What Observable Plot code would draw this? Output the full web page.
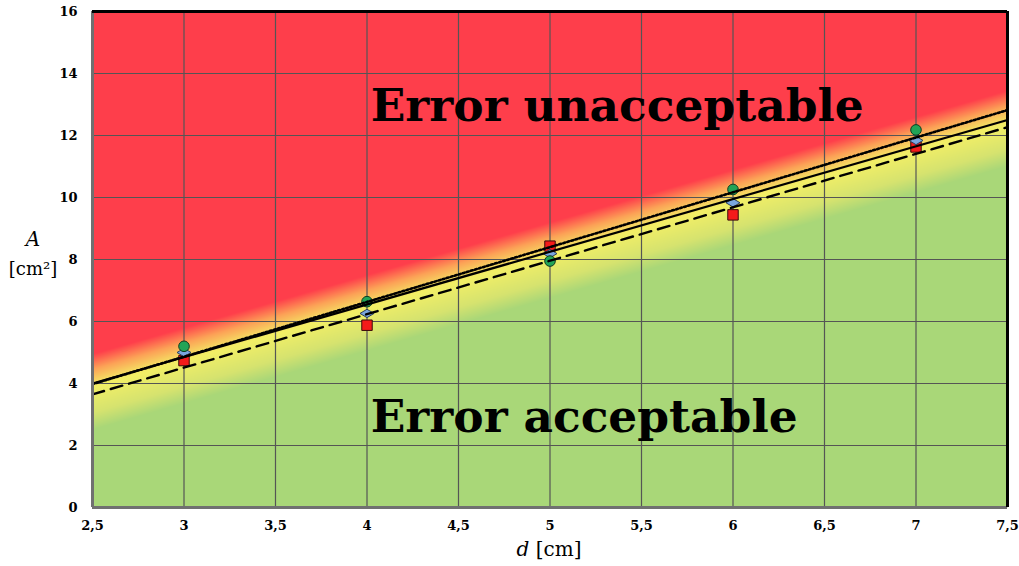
<!DOCTYPE html>
<html>
<head>
<meta charset="utf-8">
<script src="https://cdn.jsdelivr.net/npm/d3@7"></script>
<script src="https://cdn.jsdelivr.net/npm/@observablehq/plot@0.6"></script>
<style>
  html, body { margin: 0; padding: 0; background: #fff; }
  #chart svg { display: block; }
</style>
</head>
<body>
<div id="chart"></div>
<script>
// Measured points: plate distance d [cm] vs. area A [cm²], three methods
const dValues = [3, 4, 5, 6, 7];
const circleA = [5.2, 6.64, 7.95, 10.26, 12.18];
const diamondA = [5.0, 6.26, 8.19, 9.83, 11.84];
const squareA = [4.74, 5.88, 8.43, 9.44, 11.63];

// Fitted lines, given by their end points over the d range
const lineD = [2.5, 7.5];
const solidA = [4.0, 12.5];
const dottedA = [3.98, 12.82];
const dashedA = [3.65, 12.27];

// Axis ticks
const xTicks = [2.5, 3, 3.5, 4, 4.5, 5, 5.5, 6, 6.5, 7, 7.5];
const yTicks = [0, 2, 4, 6, 8, 10, 12, 14, 16];

// Zone captions
const zoneLabels = ["Error unacceptable", "Error acceptable"];

const pts = (ys) => dValues.map((d, i) => ({d, A: ys[i]}));
const seg = (ys) => lineD.map((d, i) => ({d, A: ys[i]}));

// Background: colour follows the offset above/below the solid line
const solidAt = (x) => solidA[0] + (solidA[1] - solidA[0]) * (x - lineD[0]) / (lineD[1] - lineD[0]);

// Horizontally stretched diamond symbol
const wideDiamond = {
  draw(ctx, size) {
    const s = Math.sqrt(size / Math.PI);
    ctx.moveTo(-1.25 * s, 0);
    ctx.lineTo(0, -0.75 * s);
    ctx.lineTo(1.25 * s, 0);
    ctx.lineTo(0, 0.75 * s);
    ctx.closePath();
  }
};

const fmt = (v) => String(v).replace(".", ",");
const serif = "DejaVu Serif";

const chart = Plot.plot({
  width: 1019,
  height: 566,
  marginLeft: 92,
  marginRight: 12,
  marginTop: 11,
  marginBottom: 59,
  style: {fontFamily: serif, background: "#fff"},
  x: {domain: [2.5, 7.5]},
  y: {domain: [0, 16]},
  color: {
    type: "linear",
    domain: [-1.5, -0.95, -0.1, 0.45, 0.95],
    range: ["#a9d778", "#d6e36f", "#f3ef66", "#fca357", "#fe3e4b"],
    clamp: true
  },
  marks: [
    Plot.raster({x1: 2.5, x2: 7.5, y1: 0, y2: 16, pixelSize: 1, fill: (x, y) => y - solidAt(x)}),
    Plot.gridX(xTicks, {stroke: "#555", strokeOpacity: 1, strokeWidth: 1.2}),
    Plot.gridY(yTicks, {stroke: "#555", strokeOpacity: 1, strokeWidth: 1.2}),
    Plot.axisX(xTicks, {tickSize: 0, tickPadding: 13, fontSize: 13, fontWeight: "bold", tickFormat: fmt, label: null}),
    Plot.axisY(yTicks, {tickSize: 0, tickPadding: 15, fontSize: 13, fontWeight: "bold", tickFormat: fmt, label: null}),
    // markers
    Plot.dot(pts(squareA), {x: "d", y: "A", symbol: "square", r: 5.9, fill: "#f41a1a", stroke: "#3a0a0a", strokeWidth: 1}),
    Plot.dot(pts(diamondA), {x: "d", y: "A", symbol: wideDiamond, r: 5.6, fill: "#7aa6de", stroke: "#2d3f5c", strokeWidth: 1}),
    Plot.dot(pts(circleA), {x: "d", y: "A", symbol: "circle", r: 5.3, fill: "#22a457", stroke: "#0f3a20", strokeWidth: 1}),
    // lines
    Plot.line(seg(dottedA), {x: "d", y: "A", stroke: "#000", strokeWidth: 2.6, strokeDasharray: "2,2.2"}),
    Plot.line(seg(solidA), {x: "d", y: "A", stroke: "#000", strokeWidth: 2.2}),
    Plot.line(seg(dashedA), {x: "d", y: "A", stroke: "#000", strokeWidth: 2.4, strokeDasharray: "12,7"}),
    // frame: grey left/bottom, black top/right
    Plot.ruleX([2.5], {stroke: "#707070", strokeWidth: 3}),
    Plot.ruleY([0], {stroke: "#707070", strokeWidth: 3}),
    Plot.ruleY([16], {stroke: "#000", strokeWidth: 3}),
    Plot.ruleX([7.5], {stroke: "#000", strokeWidth: 3}),
    // zone captions
    Plot.text([zoneLabels[0]], {x: 4.02, y: 12.95, text: (d) => d, textAnchor: "start", fontSize: 45.5, fontWeight: "bold", fontFamily: serif, fill: "#000"}),
    Plot.text([zoneLabels[1]], {x: 4.02, y: 2.92, text: (d) => d, textAnchor: "start", fontSize: 45.5, fontWeight: "bold", fontFamily: serif, fill: "#000"})
  ]
});

const svg = d3.select(chart);
// y-axis title
svg.append("text")
  .attr("x", 33).attr("y", 246)
  .attr("text-anchor", "middle")
  .attr("font-family", serif).attr("font-size", 20).attr("font-style", "italic")
  .text("A");
svg.append("text")
  .attr("x", 33).attr("y", 275)
  .attr("text-anchor", "middle")
  .attr("font-family", serif).attr("font-size", 18)
  .text("[cm²]");
// x-axis title
const xt = svg.append("text")
  .attr("x", 549).attr("y", 556)
  .attr("text-anchor", "middle")
  .attr("font-family", serif).attr("font-size", 20);
xt.append("tspan").attr("font-style", "italic").text("d");
xt.append("tspan").text(" [cm]");

document.getElementById("chart").appendChild(chart);
</script>
</body>
</html>
